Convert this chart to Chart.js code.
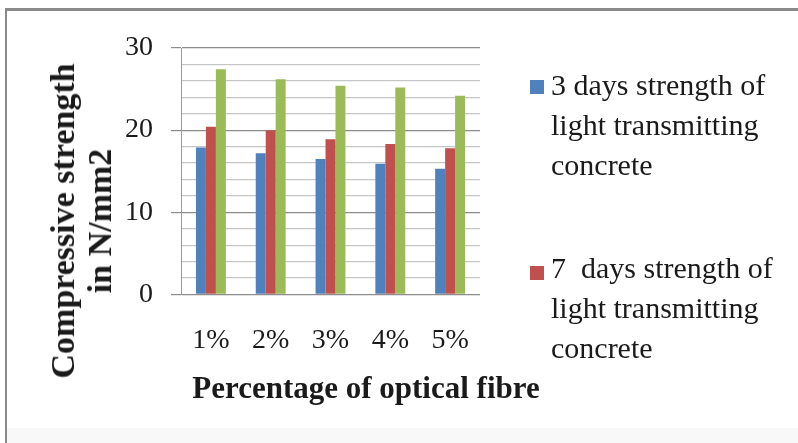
<!DOCTYPE html>
<html>
<head>
<meta charset="utf-8">
<script src="https://cdn.jsdelivr.net/npm/chart.js@4.4.1/dist/chart.umd.min.js"></script>
<style>
    html, body {
        margin: 0;
        padding: 0;
        background: #ffffff;
    }
    #page {
        position: relative;
        width: 798px;
        height: 443px;
        overflow: hidden;
        background: #ffffff;
        font-family: "Liberation Serif", "DejaVu Serif", serif;
        color: #1a1a1a;
    }
    #frame {
        position: absolute;
        left: 5px;
        top: 8px;
        width: 820px;
        height: 460px;
        border-left: 2px solid #8a8a8a;
        border-top: 3px solid #8a8a8a;
    }
    #footer {
        position: absolute;
        left: 7px;
        top: 428px;
        width: 800px;
        height: 20px;
        background: #f8f8f8;
    }
    #chartBox {
        position: absolute;
        left: 0;
        top: 0;
        width: 798px;
        height: 443px;
    }
    .axis-title {
        position: absolute;
        font-weight: bold;
        white-space: nowrap;
        text-align: center;
    }
    #xTitle {
        left: 366px;
        top: 388px;
        font-size: 31px;
        transform: translate(-50%, -50%);
    }
    #yTitle {
        left: 81px;
        top: 221px;
        font-size: 34px;
        line-height: 37px;
        transform: translate(-50%, -50%) rotate(-90deg);
    }
    .legend-item {
        position: absolute;
        left: 530px;
    }
    .legend-item .swatch {
        position: absolute;
        left: 0;
        width: 14px;
        height: 14px;
    }
    .legend-item .text {
        position: absolute;
        left: 21px;
        top: 0;
        font-size: 30px;
        line-height: 40px;
        white-space: pre;
    }
</style>
</head>
<body>
<div id="page">
    <div id="frame"></div>
    <div id="footer"></div>
    <div id="chartBox"><canvas id="chart"></canvas></div>
    <div id="yTitle" class="axis-title"></div>
    <div id="xTitle" class="axis-title"></div>
    <div id="legend"></div>
</div>
<script>
// Categories and series
const categories = ['1%', '2%', '3%', '4%', '5%'];
const strength3Days = [17.9, 17.2, 16.5, 15.9, 15.3];
const strength7Days = [20.4, 20.0, 18.9, 18.3, 17.8];
const strength28Days = [27.4, 26.2, 25.4, 25.2, 24.2];

// Legend text, one entry per line as in the picture
const legend3Days = ['3 days strength of', 'light transmitting', 'concrete'];
const legend7Days = ['7  days strength of', 'light transmitting', 'concrete'];

const xTitleText = 'Percentage of optical fibre';
const yTitleLines = ['Compressive strength', 'in N/mm2'];

const colors = ['#4f81bd', '#c0504d', '#9bbb59'];

// Axis titles
document.getElementById('xTitle').textContent = xTitleText;
document.getElementById('yTitle').innerHTML = yTitleLines.join('<br>');

const serif = '"Liberation Serif", "DejaVu Serif", serif';

const chart = new Chart(document.getElementById('chart').getContext('2d'), {
    type: 'bar',
    data: {
        labels: categories,
        datasets: [
            { label: legend3Days.join(' '), data: strength3Days, backgroundColor: colors[0] },
            { label: legend7Days.join(' '), data: strength7Days, backgroundColor: colors[1] },
            { label: '28 days strength of light transmitting concrete', data: strength28Days, backgroundColor: colors[2] }
        ]
    },
    options: {
        responsive: true,
        maintainAspectRatio: false,
        animation: false,
        layout: {
            padding: { left: 107, right: 318, top: 48, bottom: 57 }
        },
        datasets: {
            bar: {
                categoryPercentage: 0.5,
                barPercentage: 1.0
            }
        },
        plugins: {
            legend: { display: false },
            tooltip: { enabled: false }
        },
        scales: {
            x: {
                grid: { display: false, drawTicks: false },
                border: { display: false },
                ticks: {
                    color: '#1a1a1a',
                    padding: 29,
                    font: { family: serif, size: 28 }
                }
            },
            y: {
                min: 0,
                max: 30,
                border: { display: true, color: '#9a9a9a', width: 1 },
                grid: {
                    color: (ctx) => ctx.tick && ctx.tick.value % 10 === 0 ? '#8c8c8c' : '#c6c6c6',
                    tickColor: (ctx) => ctx.tick && ctx.tick.value % 10 === 0 ? '#8c8c8c' : 'rgba(0,0,0,0)',
                    tickLength: 10,
                    lineWidth: 1.2
                },
                ticks: {
                    stepSize: 2,
                    autoSkip: false,
                    color: '#1a1a1a',
                    padding: 18,
                    font: { family: serif, size: 28 },
                    callback: (value) => value % 10 === 0 ? value : ''
                }
            }
        }
    }
});

// HTML legend for the two visible entries
const legendEntries = [
    { lines: legend3Days, color: colors[0], top: 65, swatchTop: 15 },
    { lines: legend7Days, color: colors[1], top: 248, swatchTop: 18 }
];
const legendEl = document.getElementById('legend');
legendEntries.forEach((entry) => {
    const item = document.createElement('div');
    item.className = 'legend-item';
    item.style.top = entry.top + 'px';
    item.innerHTML = `
        <div class="swatch" style="background:${entry.color}; top:${entry.swatchTop}px"></div>
        <div class="text">${entry.lines.join('\n')}</div>
    `;
    legendEl.appendChild(item);
});
</script>
</body>
</html>
